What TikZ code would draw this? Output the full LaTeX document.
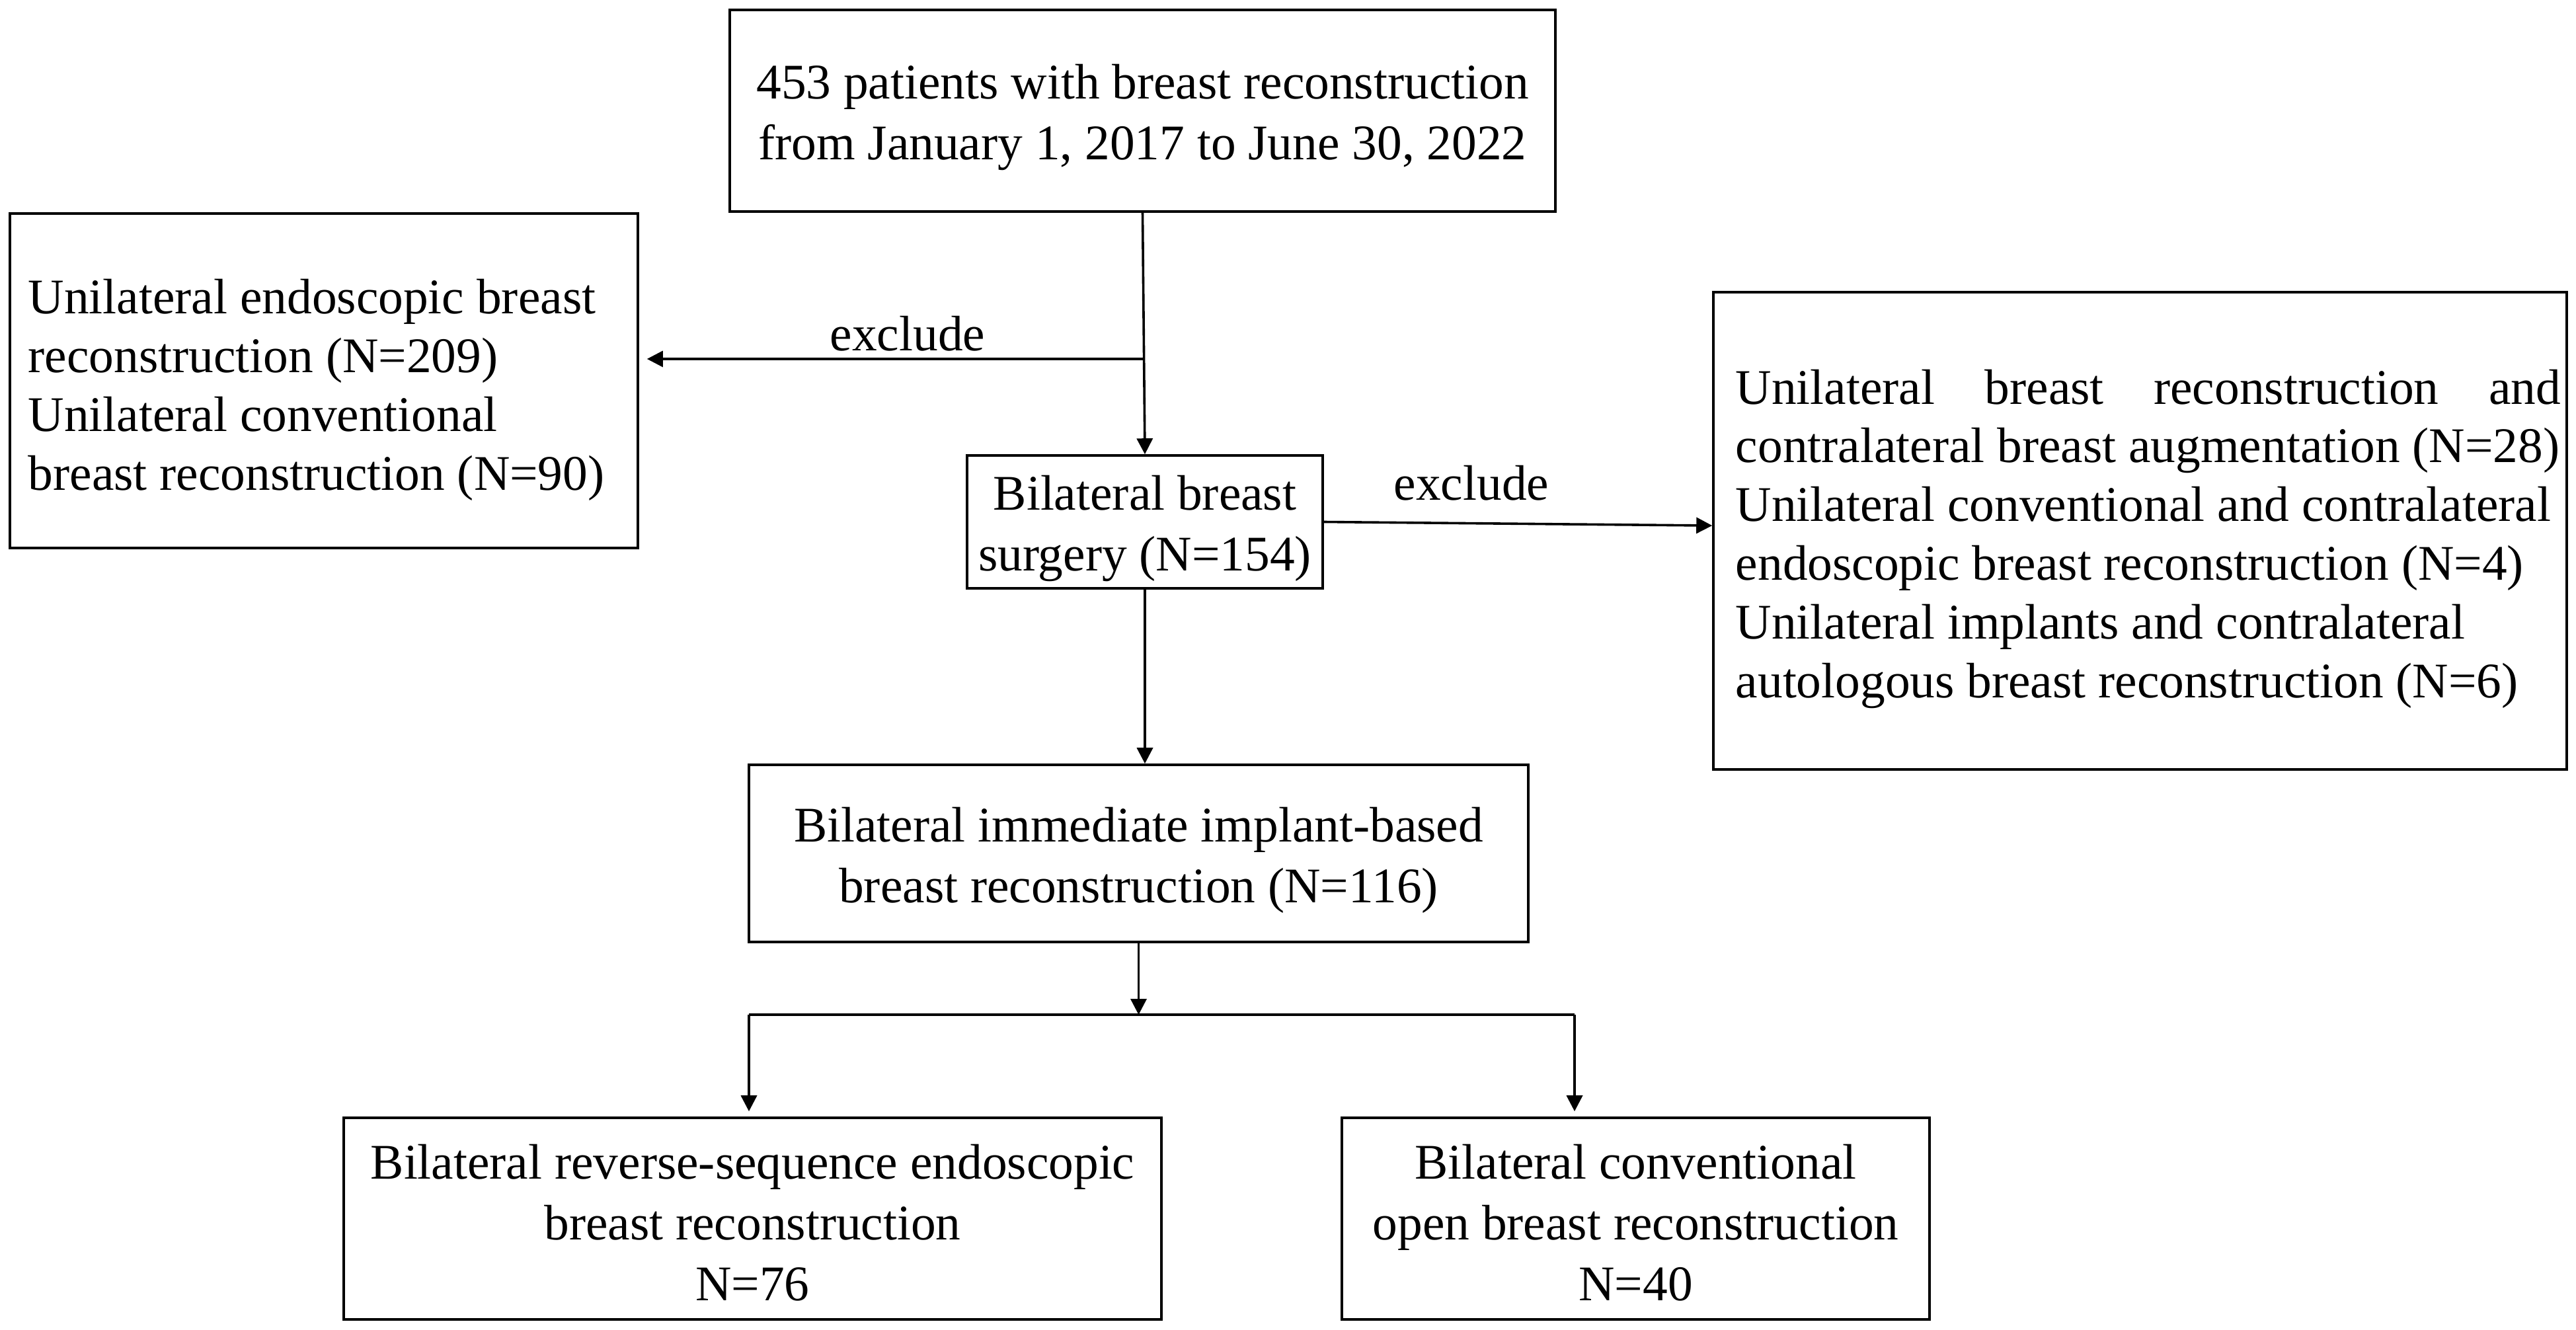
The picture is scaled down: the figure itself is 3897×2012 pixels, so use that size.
\documentclass[tikz,border=0pt]{standalone}
\usepackage{fontspec}
\setmainfont{Liberation Serif}
\usetikzlibrary{arrows.meta}
\newcommand\figfont{\fontsize{18.85pt}{23pt}\selectfont}
\newcommand\figfontb{\fontsize{18.85pt}{22.2pt}\selectfont}
\begin{document}
\begin{tikzpicture}[x=0.25pt,y=-0.25pt,
  box/.style={draw, line width=0.9pt, inner sep=0pt},
  txt/.style={inner sep=0pt, align=center, font=\figfont},
  lbl/.style={inner sep=0pt, font=\figfont},
  arr/.style={draw, line width=0.9pt, -{Triangle[width=6pt,length=6pt]}},
  ln/.style={draw, line width=0.9pt}]
\fill[white] (0,0) rectangle (3897,2012);
\useasboundingbox (0,0) rectangle (3897,2012);

% boxes
\node[box, minimum width=312.25pt, minimum height=76.25pt] (top) at (1728.5,167.5) {};
\node[box, minimum width=237.5pt, minimum height=126.5pt] (left) at (490,576) {};
\node[box, minimum width=134.5pt, minimum height=50.25pt] (mid) at (1732,789.5) {};
\node[box, minimum width=322.75pt, minimum height=180.5pt] (rbox) at (3237.5,803) {};
\node[box, minimum width=294.75pt, minimum height=67pt] (imm) at (1722.5,1291) {};
\node[box, minimum width=309.25pt, minimum height=76.25pt] (bl) at (1138.5,1843.5) {};
\node[box, minimum width=222.25pt, minimum height=76.25pt] (br) at (2474.5,1843.5) {};

% texts
\node[txt] (topt) at ([yshift=-2.5pt]top.center)
  {453 patients with breast reconstruction\\from January 1, 2017 to June 30, 2022};
\node[txt, align=left, font=\figfontb, anchor=west] (leftt) at ([yshift=-3.5pt]left.west -| 42,0)
  {Unilateral endoscopic breast\\reconstruction (N=209)\\Unilateral conventional\\breast reconstruction (N=90)};
\node[txt] (midt) at ([yshift=-2.5pt]mid.center)
  {Bilateral breast\\surgery (N=154)};
\node[txt, align=left, font=\figfontb, anchor=west] (rtext) at ([yshift=-3pt]rbox.west -| 2625,0)
  {\makebox[312pt][l]{Unilateral\hfill breast\hfill reconstruction\hfill and}\\
   contralateral breast augmentation (N=28)\\
   Unilateral conventional and contralateral\\
   endoscopic breast reconstruction (N=4)\\
   Unilateral implants and contralateral\\
   autologous breast reconstruction (N=6)};
\node[txt] (immt) at ([yshift=-2.5pt]imm.center)
  {Bilateral immediate implant-based\\breast reconstruction (N=116)};
\node[txt] (blt) at ([yshift=-1.5pt]bl.center)
  {Bilateral reverse-sequence endoscopic\\breast reconstruction\\N=76};
\node[txt] (brt) at ([yshift=-1.5pt]br.center)
  {Bilateral conventional\\open breast reconstruction\\N=40};

\node[lbl] (ex1) at (1373,505) {exclude};
\node[lbl] (ex2) at (2226,731) {exclude};

% connectors
\coordinate (j1) at (1731,543);
\coordinate (bm) at (1720,1535);
\coordinate (bL) at (1133,1535);
\coordinate (bR) at (2382,1535);

\draw[arr] (top.south) -- (mid.north);
\draw[arr, shorten >=3pt] (j1) -- (left.east |- j1);
\draw[arr] (mid.east) -- ([yshift=-1.4pt]mid.east -| rbox.west);
\draw[arr] (mid.south) -- (mid.south |- imm.north);
\draw[arr] (imm.south) -- (imm.south |- bm);
\draw[ln] (bL) -- (bR);
\draw[arr, shorten >=2pt] (bL) -- (bL |- bl.north);
\draw[arr, shorten >=2pt] (bR) -- (bR |- br.north);
\end{tikzpicture}
\end{document}
